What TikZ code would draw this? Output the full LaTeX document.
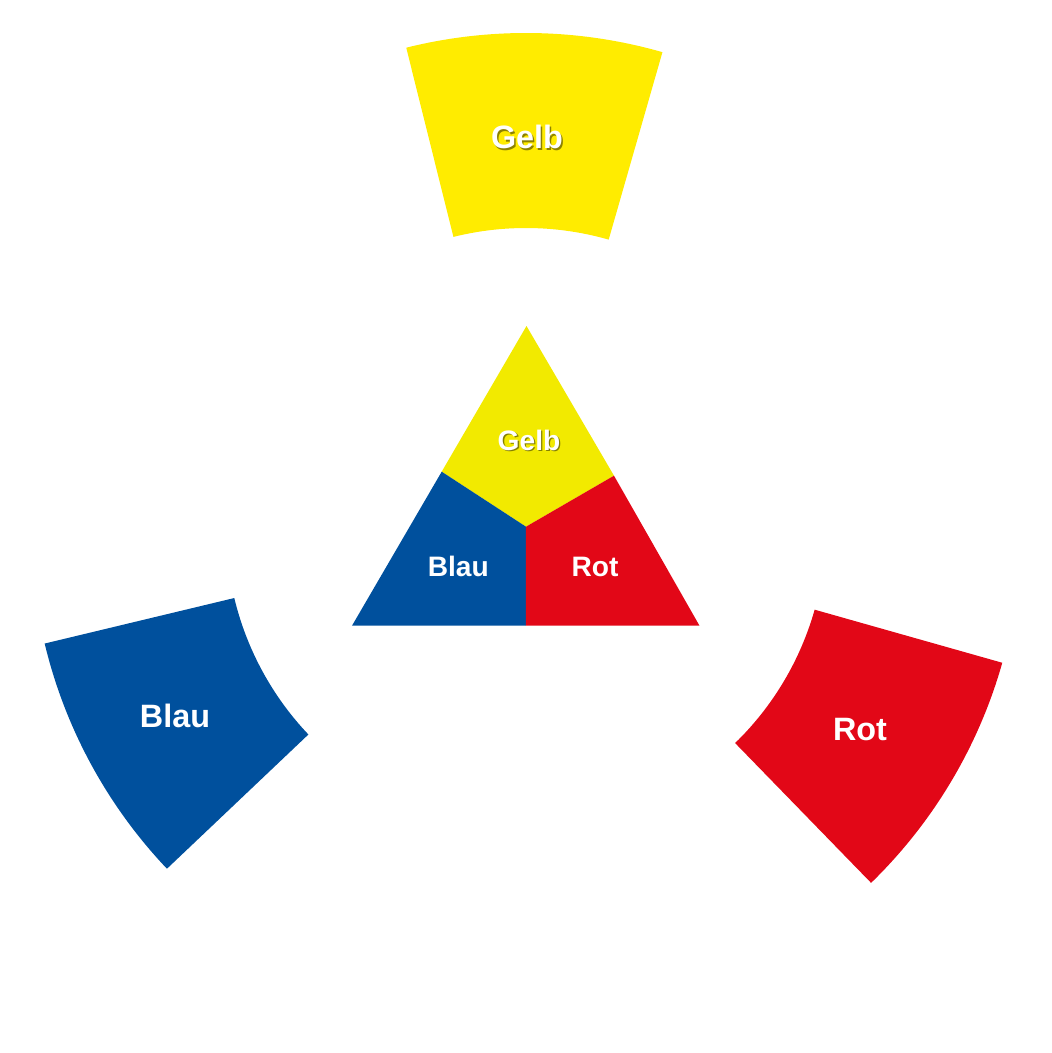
\documentclass[tikz,border=0pt]{standalone}
\usepackage{fontspec}
\setmainfont{Liberation Sans}
\usetikzlibrary{positioning}

\definecolor{gelb}{HTML}{FFEC00}
\definecolor{gelbB}{HTML}{F2EA00}
\definecolor{blau}{HTML}{00509D}
\definecolor{rot}{HTML}{E20717}

\tikzset{
  ring/.style={fill=#1},
  lbl/.style={text=white, font=\bfseries\fontsize{23}{23}\selectfont, inner sep=0pt},
  lblsmall/.style={text=white, font=\bfseries\fontsize{20}{20}\selectfont, inner sep=0pt},
  shade/.style={text=black, opacity=0.45}
}

\begin{document}
\begin{tikzpicture}[x=0.025cm, y=0.025cm]
  \useasboundingbox (-526,-525) rectangle (526,528);

  % outer ring
  \foreach \a/\c in {74/gelb, 193.5/blau, 314.2/rot}
    \fill[ring=\c] (\a:300) arc[start angle=\a, end angle=\a+30, radius=300]
      -- (\a+30:495) arc[start angle=\a+30, end angle=\a, radius=495] -- cycle;

  \node[lbl, shade] (gelbS) at (2.5,389.5) {Gelb};
  \node[lbl] (gelbT) at (1,391) {Gelb};
  \node[lbl] (blauT) at (-351,-188) {Blau};
  \node[lbl] (rotT) at (334,-202) {Rot};

  % triangle
  \coordinate (top) at (0.5,202);
  \coordinate (bl) at (-174,-97.7);
  \coordinate (br) at (173.5,-97.7);
  \coordinate (mid) at (0,1.3);
  \coordinate (sl) at (-84.3,56.3);
  \coordinate (sr) at (88,52.3);
  \coordinate (sb) at (0,-97.7);

  \fill[gelbB] (top) -- (sl) -- (mid) -- (sr) -- cycle;
  \fill[blau] (bl) -- (sl) -- (mid) -- (sb) -- cycle;
  \fill[rot] (br) -- (sr) -- (mid) -- (sb) -- cycle;

  \node[lblsmall, shade] (gelbiS) at (4.3,86.7) {Gelb};
  \node[lblsmall] (gelbi) at (3,88) {Gelb};
  \node[lblsmall] (blaui) at (-67.7,-38.7) {Blau};
  \node[lblsmall] (roti) at (69,-38.7) {Rot};
\end{tikzpicture}
\end{document}
